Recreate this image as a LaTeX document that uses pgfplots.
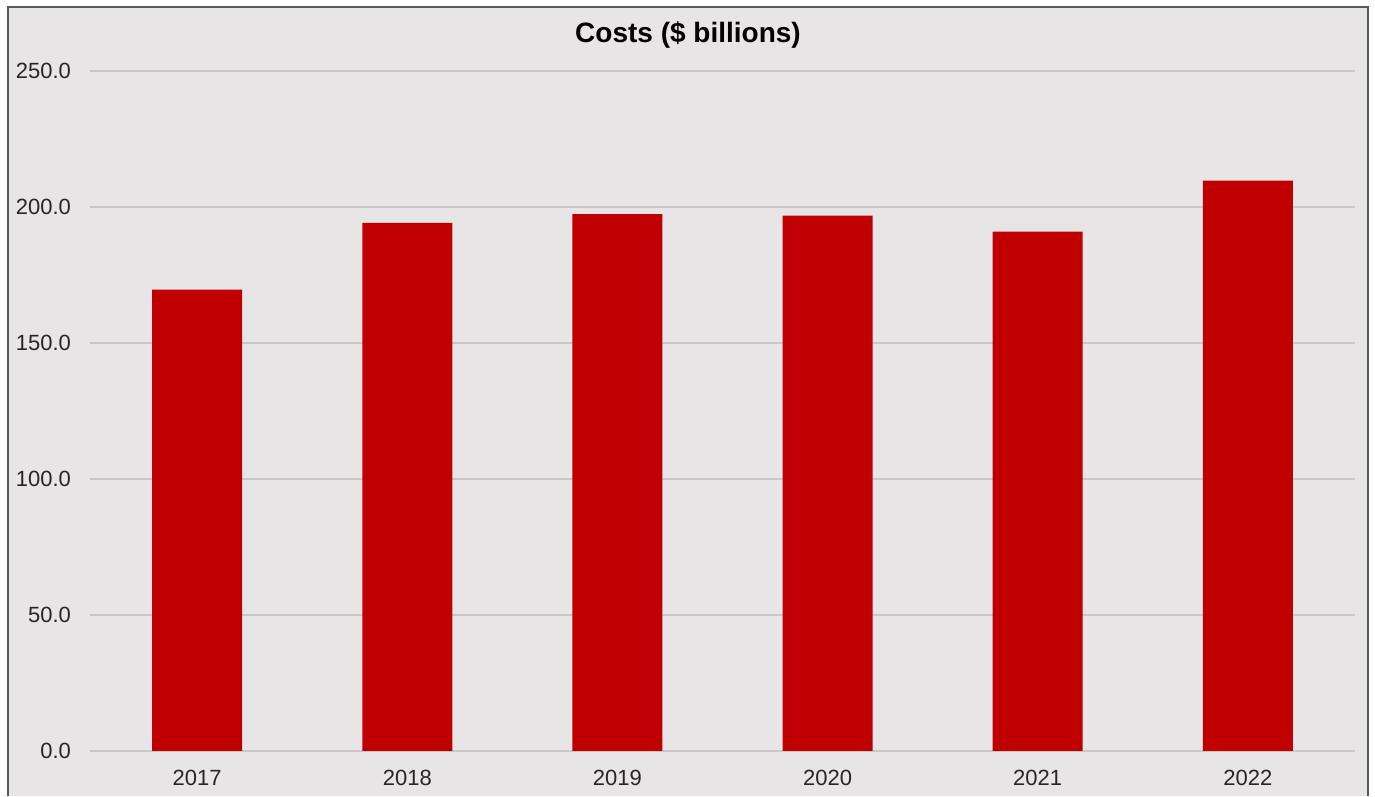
\documentclass[border=0pt]{standalone}
\usepackage{fontspec}
\setmainfont{Liberation Sans}
\usepackage{pgfplots}
\pgfplotsset{compat=1.18}
\definecolor{bgc}{HTML}{E7E5E5}
\definecolor{barc}{HTML}{C00000}
\definecolor{gridc}{HTML}{C9C7C7}
\definecolor{txtc}{HTML}{262626}
\begin{document}
\begin{tikzpicture}
% page frame: 1px = 0.5pt, axis origin at px (90,751)
\path[fill=white] (-45pt,-22.5pt) rectangle (642.5pt,375.5pt);
\fill[bgc] (-41pt,-22.5pt) rectangle (639pt,372pt);
\draw[line width=1pt, black!65] (-41pt,-22.5pt) -- (-41pt,372pt) -- (639pt,372pt) -- (639pt,-22.5pt);
\node[font=\bfseries\fontsize{14}{16}\selectfont, text=black] at (299pt,358pt) {Costs (\$ billions)};
\begin{axis}[
  at={(0,0)}, anchor=south west,
  scale only axis,
  width=632.5pt, height=340pt,
  xmin=-0.51, xmax=5.51,
  ymin=0, ymax=250,
  ytick={0,50,100,150,200,250},
  xtick={0,1,2,3,4,5},
  xticklabels={2017,2018,2019,2020,2021,2022},
  axis line style={draw=none},
  major tick length=0pt,
  ymajorgrids,
  grid style={gridc, line width=0.6pt},
  yticklabel style={/pgf/number format/.cd, fixed, fixed zerofill, precision=1, /tikz/.cd},
  /pgf/number format/assume math mode=true,
  ticklabel style={font=\fontsize{11}{13}\selectfont, text=txtc},
  yticklabel style={xshift=-6pt},
  xticklabel style={yshift=-6pt},
  clip=false,
]
\addplot[ybar, bar width=45pt, fill=barc, draw=none] coordinates {
  (0,169.6) (1,194.2) (2,197.4) (3,196.8) (4,190.9) (5,209.7)
};
\end{axis}
\end{tikzpicture}
\end{document}
